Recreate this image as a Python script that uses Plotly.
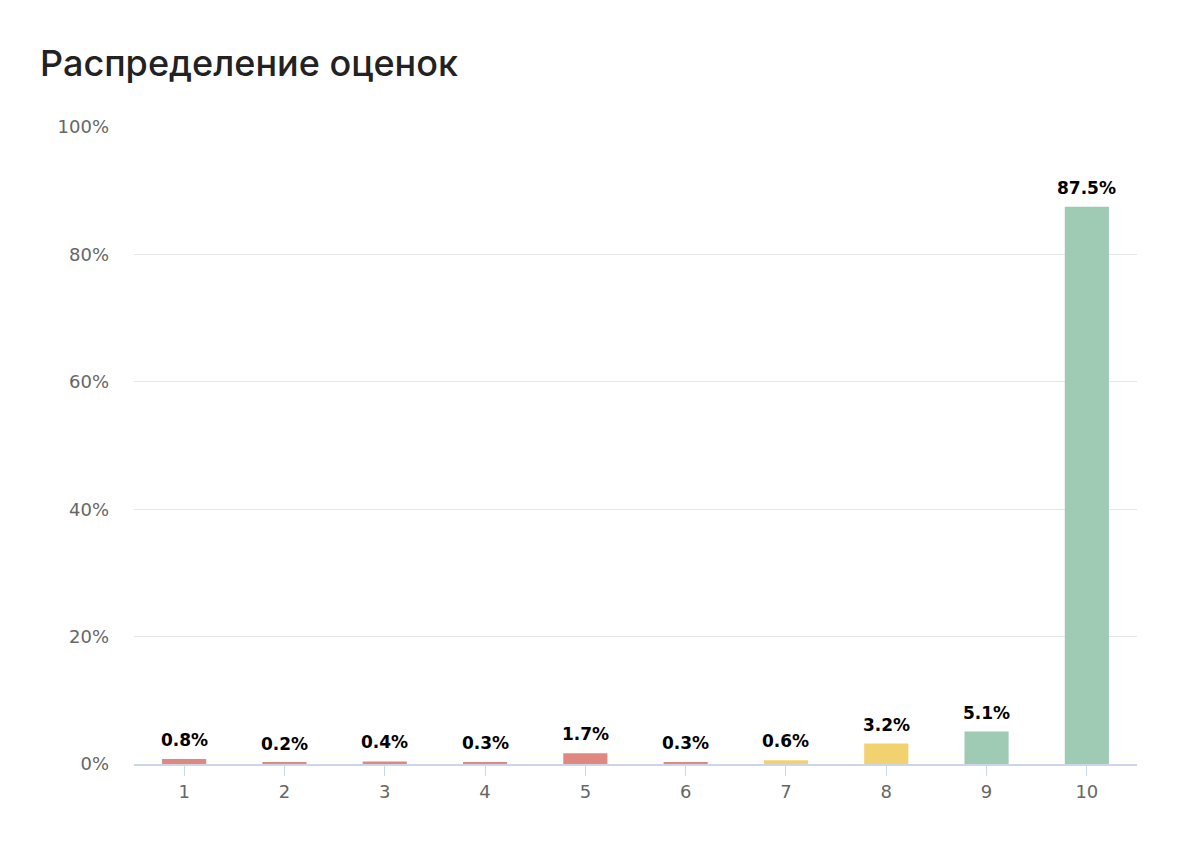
import plotly.graph_objects as go

categories = ["1", "2", "3", "4", "5", "6", "7", "8", "9", "10"]
values = [0.8, 0.2, 0.4, 0.3, 1.7, 0.3, 0.6, 3.2, 5.1, 87.5]
colors = ["#e0887f"] * 6 + ["#f2d26e"] * 2 + ["#9fcab4"] * 2
y_ticks = [0, 20, 40, 60, 80, 100]
y_tick_labels = ["0%", "20%", "40%", "60%", "80%", "100%"]

fig = go.Figure(go.Bar(
    x=categories, y=values,
    marker=dict(color=colors, line=dict(width=0)),
    hovertemplate="%{x}: %{y:.1f}%<extra></extra>",
))

# category axis: annotations are positioned by category index
for i, v in enumerate(values):
    fig.add_annotation(x=i, y=v, text=f"{v:.1f}%", showarrow=False, yanchor="bottom", yshift=7,
                       font=dict(family="DejaVu Sans, sans-serif", size=17, color="#000000", weight="bold"))

fig.update_layout(
    width=1196, height=866,
    margin=dict(l=134, r=59, t=127, b=102),
    paper_bgcolor="white", plot_bgcolor="white",
    bargap=0.56,
    showlegend=False,
    title=dict(text="Распределение оценок", x=40/1196, xanchor="left", y=1-63/866, yanchor="middle",
               font=dict(family="Inter, sans-serif", size=36, color="#222222", weight=500)),
    font=dict(family="DejaVu Sans, sans-serif"),
)
fig.update_yaxes(range=[0, 100], tickvals=y_ticks, ticktext=y_tick_labels, showgrid=True, gridcolor="#e6e6e6", gridwidth=1,
                 zeroline=False, showline=False, tickfont=dict(size=18, color="#666666"), ticks="", ticklabelstandoff=24)
fig.update_xaxes(type="category", categoryorder="array", categoryarray=categories, range=[-0.5, len(categories) - 0.5],
                 showline=True, linecolor="#ccd6eb", linewidth=2, ticks="outside", ticklen=10,
                 tickcolor="#ccd6eb", tickwidth=1, tickfont=dict(size=18, color="#666666"), showgrid=False)

fig.write_html("out.html")
